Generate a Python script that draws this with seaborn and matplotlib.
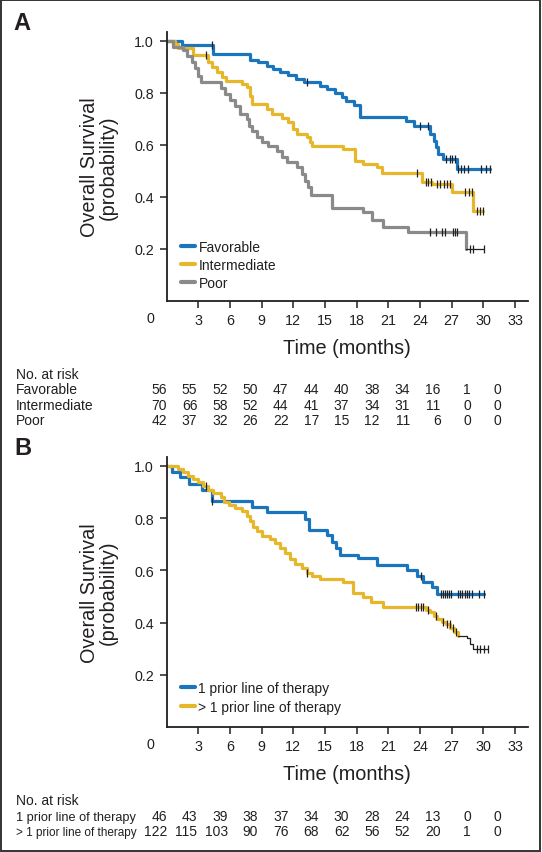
import numpy as np
import pandas as pd
import seaborn as sns
import matplotlib.pyplot as plt
from matplotlib import font_manager
from matplotlib.patches import Rectangle
from matplotlib.lines import Line2D

# ---- panel A: risk groups ----
fav_t = [0, 1.5, 4.4, 7.9, 8.7, 9.5, 10.1, 10.7, 11.5, 12.3, 13.0, 14.5, 15.2, 15.9, 16.6, 17.0, 17.7, 18.3,
         22.7, 23.4, 24.9, 25.3, 25.5, 25.7, 26.2, 27.5]
fav_s = [1.0, 0.982, 0.947, 0.927, 0.917, 0.901, 0.891, 0.881, 0.867, 0.853, 0.842, 0.827, 0.814, 0.798, 0.782,
         0.769, 0.753, 0.705, 0.690, 0.671, 0.641, 0.615, 0.590, 0.564, 0.545, 0.507]
fav_cens = [4.3, 13.3, 24.0, 24.8, 26.5, 26.8, 27.0, 27.3, 27.6, 27.9, 28.2, 28.5, 29.8, 30.2, 30.6]

int_t = [0, 0.8, 1.1, 2.5, 3.95, 4.27, 4.74, 5.2, 5.62, 7.11, 7.58, 7.9, 8.05, 9.48, 9.95, 10.9, 11.53, 12.0,
         12.32, 13.26, 13.58, 13.74, 16.7, 17.84, 18.63, 19.9, 20.37, 24.15, 25.1, 27.0, 29.0]
int_s = [1.0, 0.986, 0.971, 0.945, 0.917, 0.897, 0.881, 0.859, 0.844, 0.833, 0.821, 0.788, 0.756, 0.737, 0.718,
         0.701, 0.686, 0.660, 0.641, 0.628, 0.609, 0.596, 0.583, 0.538, 0.526, 0.513, 0.491, 0.458, 0.449, 0.419,
         0.346]
int_cens = [3.7, 23.7, 24.6, 24.8, 25.0, 25.6, 25.9, 26.3, 26.6, 26.8, 28.3, 28.6, 28.9, 29.4, 29.7, 30.0]

poor_t = [0, 0.6, 1.58, 1.9, 2.37, 2.69, 3.0, 3.23, 5.12, 5.53, 6.0, 6.48, 6.95, 7.58, 7.83, 8.06, 8.53, 9.0,
          9.63, 10.42, 10.9, 11.37, 12.32, 12.79, 13.1, 13.42, 13.64, 15.7, 18.63, 19.42, 20.5, 22.89, 28.35]
poor_s = [1.0, 0.976, 0.965, 0.942, 0.917, 0.894, 0.865, 0.840, 0.817, 0.795, 0.773, 0.748, 0.718, 0.697, 0.673,
          0.654, 0.628, 0.609, 0.596, 0.577, 0.551, 0.532, 0.513, 0.487, 0.462, 0.436, 0.408, 0.357, 0.340, 0.312,
          0.282, 0.263, 0.199]
poor_cens = [24.9, 25.5, 26.1, 26.4, 27.1, 27.3, 27.5, 28.7, 29.0, 30.05]

# ---- panel B: prior lines of therapy ----
one_t = [0, 0.48, 1.27, 2.15, 3.32, 4.27, 8.05, 9.48, 13.1, 13.5, 15.2, 15.63, 16.0, 16.4, 18.15, 19.9, 22.8,
         23.75, 24.3, 25.1, 25.57]
one_s = [1.0, 0.978, 0.957, 0.931, 0.909, 0.867, 0.842, 0.823, 0.797, 0.756, 0.736, 0.710, 0.684, 0.660, 0.646,
         0.621, 0.601, 0.577, 0.554, 0.535, 0.510]
one_cens = [4.3, 24.1, 25.95, 26.14, 26.33, 26.52, 26.71, 26.9, 27.56, 27.78, 28.0, 28.22, 28.45, 28.67, 28.89,
            29.62, 30.05]

multi_t = [0, 1.11, 1.58, 2.06, 2.53, 3.0, 3.48, 3.95, 4.42, 5.12, 5.43, 5.94, 6.48, 7.11, 7.58, 7.9, 8.2, 8.6,
           9.0, 9.79, 10.27, 10.74, 11.2, 11.7, 12.16, 12.79, 13.26, 13.74, 14.5, 16.74, 17.68, 18.63, 19.4, 20.5,
           24.56, 24.94, 25.3, 25.64, 26.05, 26.46, 26.83, 27.2, 27.6, 28.4, 28.7, 29.0]
multi_s = [1.0, 0.989, 0.976, 0.963, 0.950, 0.937, 0.925, 0.909, 0.895, 0.880, 0.861, 0.852, 0.839, 0.826, 0.807,
           0.788, 0.765, 0.750, 0.733, 0.720, 0.705, 0.686, 0.667, 0.644, 0.625, 0.608, 0.590, 0.578, 0.567, 0.554,
           0.513, 0.497, 0.480, 0.459, 0.449, 0.439, 0.427, 0.414, 0.404, 0.395, 0.378, 0.365, 0.350, 0.340, 0.318,
           0.299]
multi_cens = [3.7, 13.3, 23.6, 23.8, 24.06, 24.3, 24.8, 25.5, 26.2, 26.6, 26.8, 27.1, 27.4, 29.4, 29.7, 30.06,
              30.47]

# ---- numbers at risk ----
risk_times = [0, 3, 6, 9, 12, 15, 18, 21, 24, 27, 30, 33]
fav_risk = [56, 55, 52, 50, 47, 44, 40, 38, 34, 16, 1, 0]
int_risk = [70, 66, 58, 52, 44, 41, 37, 34, 31, 11, 0, 0]
poor_risk = [42, 37, 32, 26, 22, 17, 15, 12, 11, 6, 0, 0]
one_risk = [46, 43, 39, 38, 37, 34, 30, 28, 24, 13, 0, 0]
multi_risk = [122, 115, 103, 90, 76, 68, 62, 56, 52, 20, 1, 0]

xticks = [3, 6, 9, 12, 15, 18, 21, 24, 27, 30, 33]
yticks = [0.2, 0.4, 0.6, 0.8, 1.0]

BLUE = "#1b75bc"
GOLD = "#e6b72a"
GRAY = "#8a8a8a"
INK = "#231f20"

sns.set_style("ticks")
names = {f.name for f in font_manager.fontManager.ttflist}
base = "Liberation Sans" if "Liberation Sans" in names else "DejaVu Sans"
plt.rcParams["font.family"] = [base, "DejaVu Sans"]
plt.rcParams["text.color"] = INK
plt.rcParams["axes.edgecolor"] = INK
plt.rcParams["xtick.color"] = INK
plt.rcParams["ytick.color"] = INK

W, H = 542, 853
fig = plt.figure(figsize=(W / 100, H / 100), dpi=100)
renderer = fig.canvas.get_renderer()


def draw_km(ax, t, s, cens, color, tail_from=None):
    t = np.asarray(t)
    s = np.asarray(s)
    end = max(cens)
    tt = np.append(t, end)
    ss = np.append(s, s[-1])
    df = pd.DataFrame({"time": tt, "surv": ss})
    if tail_from is None:
        main, tail = df, None
    else:
        main = df[df.time <= tail_from]
        tail = df[df.time >= tail_from]
    sns.lineplot(data=main, x="time", y="surv", drawstyle="steps-post", color=color, lw=2.3,
                 estimator=None, sort=False, ax=ax, legend=False)
    if tail is not None:
        sns.lineplot(data=tail, x="time", y="surv", drawstyle="steps-post", color=INK, lw=0.9,
                     estimator=None, sort=False, ax=ax, legend=False)
    idx = np.searchsorted(t, cens, side="right") - 1
    ax.plot(cens, s[idx], ls="none", marker="|", ms=6, mew=0.9, color=INK, zorder=5)


def style_axes(ax, top_px, bottom_px, unit_px):
    left_px, right_px = 166.6, 528
    ax.set_position([left_px / W, 1 - bottom_px / H, (right_px - left_px) / W, (bottom_px - top_px) / H])
    ax.set_xlim(0, (right_px - left_px) / 10.56)
    ax.set_ylim(0, (bottom_px - top_px) / unit_px)
    ax.set_xticks(xticks)
    ax.set_yticks(yticks)
    ax.set_yticklabels([f"{v:.1f}" for v in yticks])
    ax.tick_params(length=5, width=1.1, pad=4, labelsize=10.3)
    for sp in ("left", "bottom"):
        ax.spines[sp].set_linewidth(1.3)
    sns.despine(ax=ax)
    ax.set_xlabel("")
    ax.set_ylabel("")
    hx = right_px - left_px
    hy = bottom_px - top_px
    ax.text(-(166.6 - 150.7) / hx, -17.5 / hy, "0", transform=ax.transAxes, ha="center", va="center",
            fontsize=10.3)
    ax.text(-(166.6 - 99) / hx, 0.5, "Overall Survival\n(probability)", transform=ax.transAxes,
            rotation=90, ha="center", va="center", fontsize=14.3, linespacing=1.0)
    ax.text((347 - left_px) / hx, -46.5 / hy, "Time (months)", transform=ax.transAxes,
            ha="center", va="center", fontsize=14.3)


def legend(ax, labels, colors, bottom_frac):
    handles = [Line2D([], [], color=c, lw=3) for c in colors]
    ax.legend(handles, labels, loc="lower left", bbox_to_anchor=(0.04, bottom_frac), frameon=False,
              fontsize=10, handlelength=1.0, handletextpad=0.25, labelspacing=0.3, borderpad=0,
              borderaxespad=0)


def fitted_text(x_px, y_px, s, size, max_px):
    # shrink a row label until it ends before the first column of counts
    txt = fig.text(x_px / W, 1 - y_px / H, s, ha="left", va="baseline", fontsize=size)
    w = txt.get_window_extent(renderer).width
    if w > max_px:
        txt.set_fontsize(size * max_px / w)
    return txt


def risk_table(y_px, labels, rows):
    fig.text(16 / W, 1 - y_px[0] / H, "No. at risk", ha="left", va="baseline", fontsize=10)
    for y, lab, row in zip(y_px[1:], labels, rows):
        fitted_text(16, y, lab, 10, 121)
        for i, n in enumerate(row):
            fig.text((167 + 30.4 * i) / W, 1 - y / H, str(n), ha="right", va="baseline", fontsize=10)


# panel A
axA = fig.add_axes([0, 0, 1, 1])
draw_km(axA, fav_t, fav_s, fav_cens, BLUE)
draw_km(axA, int_t, int_s, int_cens, GOLD)
draw_km(axA, poor_t, poor_s, poor_cens, GRAY, tail_from=28.35)
style_axes(axA, 32.7, 301.7, 260)
legend(axA, ["Favorable", "Intermediate", "Poor"], [BLUE, GOLD, GRAY], 0.04)
risk_table([379, 394.5, 410, 425], ["Favorable", "Intermediate", "Poor"], [fav_risk, int_risk, poor_risk])

# panel B
axB = fig.add_axes([0, 0, 1, 1])
draw_km(axB, one_t, one_s, one_cens, BLUE)
draw_km(axB, multi_t, multi_s, multi_cens, GOLD, tail_from=27.6)
style_axes(axB, 458.3, 728, 261)
legend(axB, ["1 prior line of therapy", "> 1 prior line of therapy"], [BLUE, GOLD], 0.05)
risk_table([805, 821.5, 836.5], ["1 prior line of therapy", "> 1 prior line of therapy"],
           [one_risk, multi_risk])

fig.text(22 / W, 1 - 23.5 / H, "A", ha="center", va="center", fontsize=17, weight="bold")
fig.text(22.5 / W, 1 - 448.5 / H, "B", ha="center", va="center", fontsize=17, weight="bold")

fig.patches.append(Rectangle((0.0015, 0.0015), 0.995, 0.997, transform=fig.transFigure, fill=False,
                             ec="#333333", lw=1.4))

fig.savefig("out.png", dpi=100)
